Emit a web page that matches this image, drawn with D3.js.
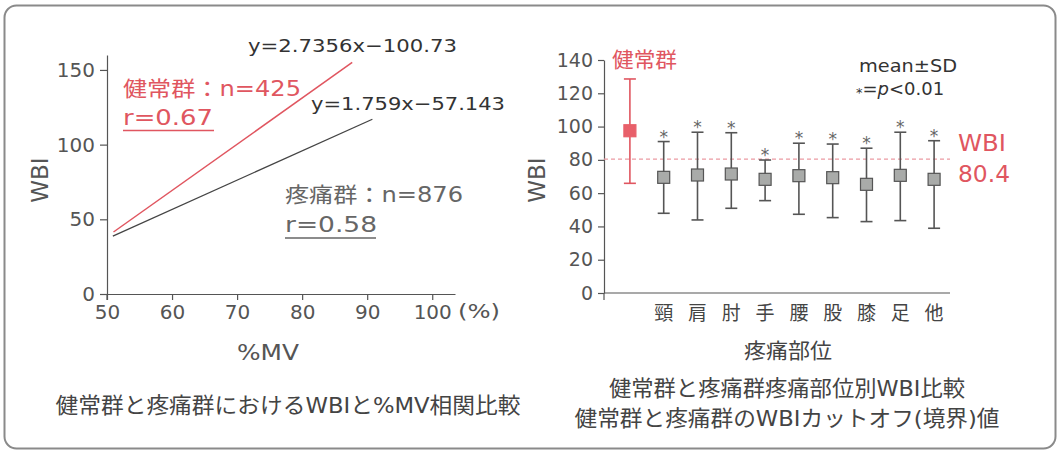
<!DOCTYPE html>
<html>
<head>
<meta charset="utf-8">
<script src="https://cdn.jsdelivr.net/npm/d3@7"></script>
<style>
  html, body { margin: 0; padding: 0; background: #fff; }
  svg { display: block; font-family: "DejaVu Sans", "Noto Sans CJK JP", sans-serif; }
  .axis path, .axis line { stroke: #555; stroke-width: 1.2; }
  .axis text { fill: #555; font-family: "DejaVu Sans", sans-serif; }
</style>
</head>
<body>
<svg id="chart" width="1062" height="454"></svg>
<script>
// ---- left panel: regression lines (WBI vs %MV)
const mvTicks = [50, 60, 70, 80, 90, 100];
const wbiTicksL = [0, 50, 100, 150];
const healthyLine = [[51, 41.5], [87.7, 155]];
const painLine = [[50.9, 38.8], [90.8, 117]];

// ---- right panel: WBI by pain site
const sites = ['健常群', '頸', '肩', '肘', '手', '腰', '股', '膝', '足', '他'];
const means = [97.5, 69.5, 70.9, 71.5, 68.3, 70.5, 69.3, 65.3, 70.7, 68.3];
const upper = [128.6, 91, 96.6, 96.3, 79.9, 90, 89.5, 87, 96.6, 91.5];
const lower = [65.9, 47.9, 43.9, 50.9, 55.5, 47.3, 45.3, 42.9, 43.5, 38.9];
const wbiTicksR = [0, 20, 40, 60, 80, 100, 120, 140];
const cutoff = 80.4;

const RED = '#e05660';
const GRAY = '#555';

const svg = d3.select('#chart');

// frame
svg.append('rect')
  .attr('x', 4.5).attr('y', 5.5).attr('width', 1051).attr('height', 443)
  .attr('rx', 12).attr('fill', 'none').attr('stroke', '#8a8a8a').attr('stroke-width', 2);

// text helper: fixed width, glyphs stretched to fit
function label(g, x, y, txt, size, color, width, anchor) {
  const t = g.append('text').attr('x', x).attr('y', y)
    .attr('font-size', size).attr('fill', color).text(txt);
  if (anchor) t.attr('text-anchor', anchor);
  if (width) t.attr('textLength', width).attr('lengthAdjust', 'spacingAndGlyphs');
  return t;
}

/* ---------------- left chart ---------------- */
const xL = d3.scaleLinear().domain([50, 103.5]).range([107, 455]);
const yL = d3.scaleLinear().domain([0, 160]).range([294, 55]);

const gL = svg.append('g');

gL.append('g').attr('class', 'axis')
  .attr('transform', 'translate(0,294)')
  .call(d3.axisBottom(xL).tickValues(mvTicks).tickSize(6).tickSizeOuter(0).tickPadding(5))
  .call(g => g.selectAll('text').attr('font-size', 20));

gL.append('g').attr('class', 'axis')
  .attr('transform', 'translate(107,0)')
  .call(d3.axisLeft(yL).tickValues(wbiTicksL).tickSize(7).tickSizeOuter(0).tickPadding(5))
  .call(g => g.selectAll('text').attr('font-size', 20));

// y-axis line runs a little below the x axis
gL.append('line').attr('x1', 107).attr('x2', 107)
  .attr('y1', yL(0)).attr('y2', yL(0) + 6).attr('stroke', GRAY).attr('stroke-width', 1.2);

label(gL, 458, 318, '(%)', 20, GRAY, 42);

const line = d3.line().x(d => xL(d[0])).y(d => yL(d[1]));
gL.append('path').datum(painLine).attr('d', line)
  .attr('stroke', '#444').attr('stroke-width', 1.3).attr('fill', 'none');
gL.append('path').datum(healthyLine).attr('d', line)
  .attr('stroke', RED).attr('stroke-width', 1.5).attr('fill', 'none');

label(gL, 248, 52, 'y=2.7356x−100.73', 18, '#333', 209);
label(gL, 311, 110, 'y=1.759x−57.143', 18, '#333', 194);

label(gL, 123, 96, '健常群：n=425', 21, RED, 178);
label(gL, 123, 125, 'r=0.67', 21, RED, 90);
gL.append('line').attr('x1', 123).attr('x2', 214).attr('y1', 130.5).attr('y2', 130.5)
  .attr('stroke', RED).attr('stroke-width', 1.5);

label(gL, 285, 202, '疼痛群：n=876', 21, '#666', 178);
label(gL, 285, 232, 'r=0.58', 21, '#666', 92);
gL.append('line').attr('x1', 285).attr('x2', 376).attr('y1', 238).attr('y2', 238)
  .attr('stroke', '#666').attr('stroke-width', 1.5);

gL.append('text').attr('transform', 'translate(48,180) rotate(-90)')
  .attr('text-anchor', 'middle').attr('font-size', 23).attr('fill', GRAY).text('WBI');
label(gL, 268, 360, '%MV', 22, GRAY, 62, 'middle');
label(gL, 288, 413, '健常群と疼痛群におけるWBIと%MV相関比較', 22, '#444', 465, 'middle');

/* ---------------- right chart ---------------- */
const xR = d3.scaleBand().domain(sites).range([613, 951]);
const cx = s => xR(s) + xR.bandwidth() / 2;
const yR = d3.scaleLinear().domain([0, 140]).range([293, 60]);

const gR = svg.append('g');

gR.append('g').attr('class', 'axis')
  .attr('transform', 'translate(604,0)')
  .call(d3.axisLeft(yR).tickValues(wbiTicksR).tickSize(6).tickSizeOuter(0).tickPadding(5))
  .call(g => g.selectAll('text').attr('font-size', 19));
gR.append('line').attr('x1', 604).attr('x2', 950).attr('y1', yR(0)).attr('y2', yR(0))
  .attr('stroke', GRAY).attr('stroke-width', 1.2);
gR.append('line').attr('x1', 604).attr('x2', 604).attr('y1', yR(0)).attr('y2', yR(0) + 7)
  .attr('stroke', GRAY).attr('stroke-width', 1.2);

// category labels (healthy group has none under the axis)
gR.selectAll('.cat').data(sites.slice(1)).enter().append('text')
  .attr('x', d => cx(d)).attr('y', 320).attr('text-anchor', 'middle')
  .attr('font-size', 19).attr('fill', '#444').text(d => d);

// cutoff line
gR.append('line').attr('x1', 604).attr('x2', 950)
  .attr('y1', yR(cutoff)).attr('y2', yR(cutoff))
  .attr('stroke', '#ec9aa2').attr('stroke-width', 1.2).attr('stroke-dasharray', '4,3');

const pts = sites.map((s, i) => ({ s, m: means[i], hi: upper[i], lo: lower[i], healthy: i === 0 }));

const eb = gR.selectAll('.eb').data(pts).enter().append('g');
eb.append('line')
  .attr('x1', d => cx(d.s)).attr('x2', d => cx(d.s))
  .attr('y1', d => yR(d.hi)).attr('y2', d => yR(d.lo))
  .attr('stroke', d => d.healthy ? RED : GRAY).attr('stroke-width', 1.6);
['hi', 'lo'].forEach(k => {
  eb.append('line')
    .attr('x1', d => cx(d.s) - 6).attr('x2', d => cx(d.s) + 6)
    .attr('y1', d => yR(d[k])).attr('y2', d => yR(d[k]))
    .attr('stroke', d => d.healthy ? RED : GRAY).attr('stroke-width', 1.6);
});
eb.append('rect')
  .attr('x', d => cx(d.s) - 6).attr('y', d => yR(d.m) - 6)
  .attr('width', 12).attr('height', 12)
  .attr('fill', d => d.healthy ? '#e8606a' : '#a9aba9')
  .attr('stroke', d => d.healthy ? '#e8606a' : '#555').attr('stroke-width', 1.2);
eb.filter(d => !d.healthy).append('text')
  .attr('x', d => cx(d.s)).attr('y', d => yR(d.hi) + 1)
  .attr('text-anchor', 'middle').attr('font-size', 17).attr('fill', '#666').text('*');

label(gR, 612, 67, '健常群', 21, RED, 65);

label(gR, 958, 151, 'WBI', 23, RED, 48);
label(gR, 958, 182, '80.4', 23, RED, 52);

label(gR, 859, 72, 'mean±SD', 17, '#333', 98);
const ptxt = gR.append('text').attr('x', 856).attr('y', 95)
  .attr('font-size', 18).attr('fill', '#333');
ptxt.append('tspan').attr('font-size', 13).attr('dy', 2).text('*');
ptxt.append('tspan').attr('dy', -2).text('=');
ptxt.append('tspan').attr('font-style', 'italic').text('p');
ptxt.append('tspan').text('<0.01');

gR.append('text').attr('transform', 'translate(545,180) rotate(-90)')
  .attr('text-anchor', 'middle').attr('font-size', 23).attr('fill', GRAY).text('WBI');
label(gR, 788, 358, '疼痛部位', 21, '#444', 88, 'middle');
label(gR, 787, 396, '健常群と疼痛群疼痛部位別WBI比較', 22, '#444', 356, 'middle');
label(gR, 787, 426, '健常群と疼痛群のWBIカットオフ(境界)値', 22, '#444', 425, 'middle');
</script>
</body>
</html>
